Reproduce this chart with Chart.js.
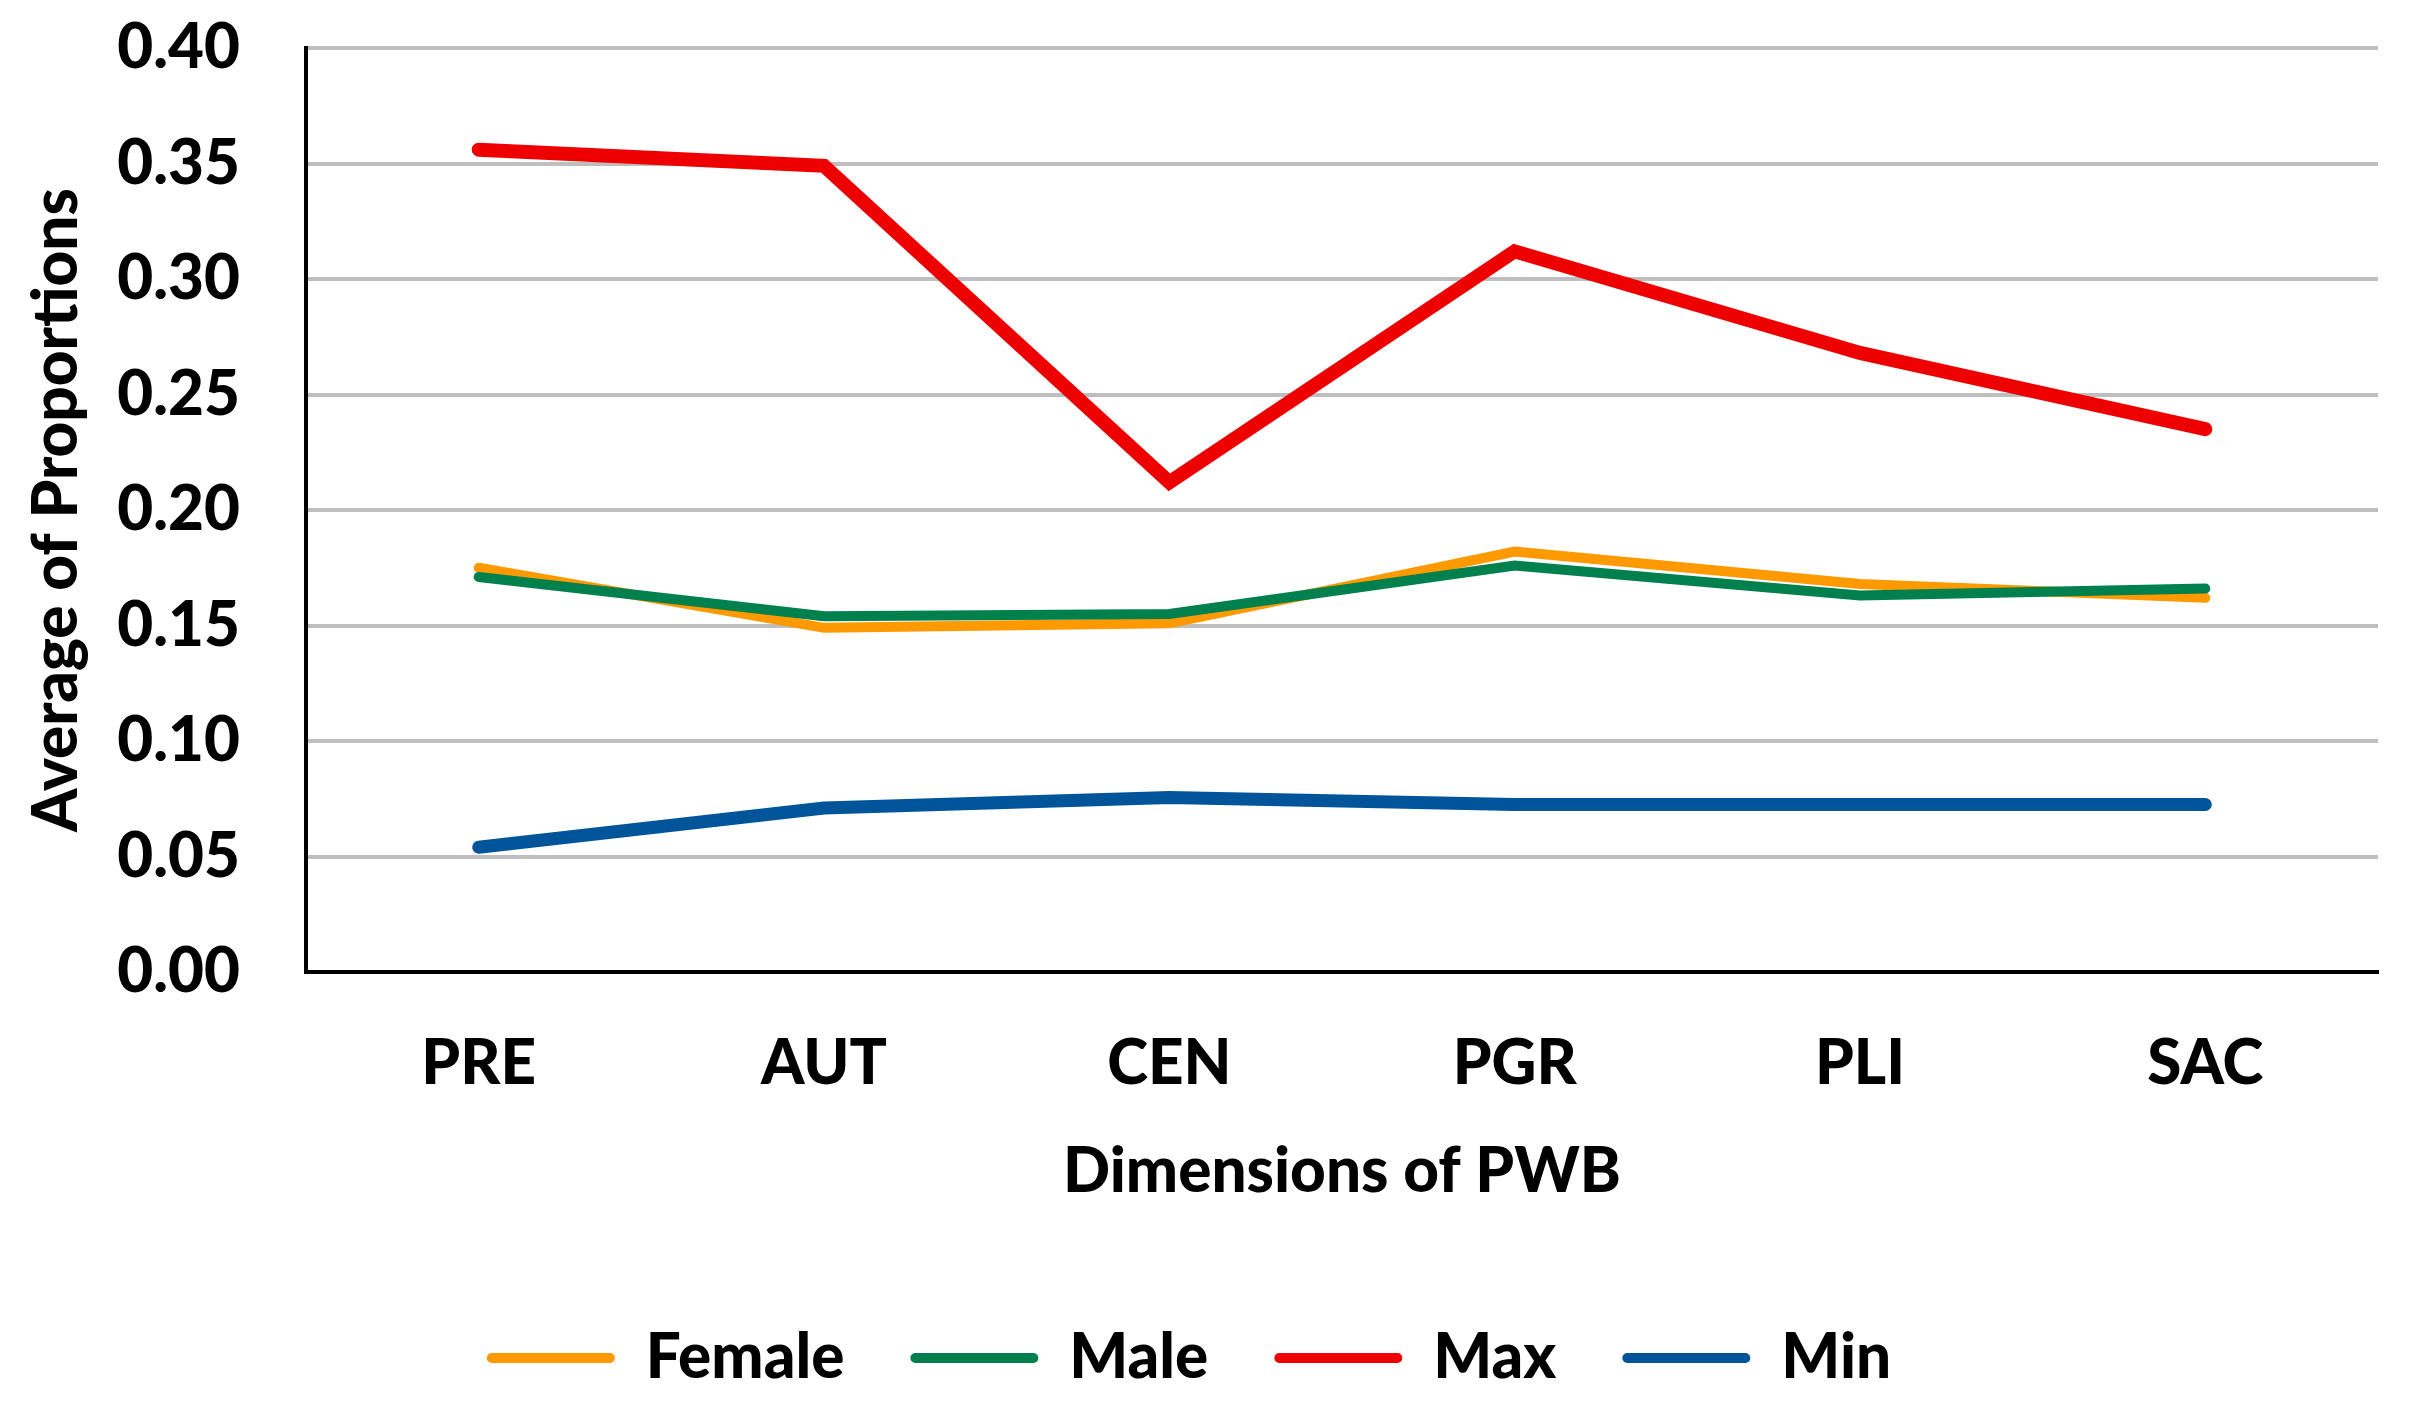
<!DOCTYPE html>
<html>
<head>
<meta charset="utf-8">
<script src="https://cdn.jsdelivr.net/npm/chart.js@4/dist/chart.umd.min.js"></script>
<style>
  html, body { margin: 0; padding: 0; background: #fff; }
  #wrap { width: 2409px; height: 1406px; }
</style>
</head>
<body>
<div id="wrap"><canvas id="chart" width="2409" height="1406"></canvas></div>
<script>
// categories (dimensions of PWB)
const dimensions = ['PRE', 'AUT', 'CEN', 'PGR', 'PLI', 'SAC'];
// series values
const femaleValues = [0.175, 0.149, 0.151, 0.182, 0.168, 0.162];
const maleValues   = [0.171, 0.154, 0.155, 0.176, 0.163, 0.166];
const maxValues    = [0.356, 0.349, 0.212, 0.312, 0.268, 0.235];
const minValues    = [0.054, 0.071, 0.0755, 0.0725, 0.0725, 0.0725];
const yTicks = [0, 0.05, 0.10, 0.15, 0.20, 0.25, 0.30, 0.35, 0.40];

const fontFamily = 'Lato, "Open Sans", sans-serif';
const textFont = { family: fontFamily, size: 62, weight: '900' };

function lineSet(label, data, color, width, order) {
  return {
    label: label,
    data: data,
    borderColor: color,
    backgroundColor: color,
    borderWidth: width,
    borderCapStyle: 'round',
    borderJoinStyle: 'miter',
    pointRadius: 0,
    pointHoverRadius: 0,
    tension: 0,
    fill: false,
    order: order,
  };
}

const datasets = [
  lineSet('Female', femaleValues, '#FF9900', 10, 3),
  lineSet('Male', maleValues, '#00804D', 10, 2),
  lineSet('Max', maxValues, '#EE0000', 14, 1),
  lineSet('Min', minValues, '#00559A', 13, 0),
];

const config = {
  type: 'line',
  data: { labels: dimensions, datasets: datasets },
  options: {
    responsive: false,
    devicePixelRatio: 1,
    animation: false,
    layout: { padding: { top: 48, right: 31, bottom: 7, left: 0 } },
    plugins: {
      tooltip: { enabled: false },
      legend: {
        position: 'bottom',
        labels: {
          font: textFont,
          color: '#000',
          boxWidth: 128,
          boxHeight: 10,
          padding: 66,
          useBorderRadius: true,
          borderRadius: 5,
          sort: (a, b) => a.datasetIndex - b.datasetIndex,
          generateLabels: (chart) => {
            const items = Chart.defaults.plugins.legend.labels.generateLabels(chart);
            items.forEach(it => { it.lineWidth = 0; });
            return items;
          },
        },
      },
    },
    scales: {
      x: {
        offset: true,
        grid: { display: false, drawTicks: false },
        border: { display: true, color: '#000', width: 4 },
        ticks: { font: textFont, color: '#000', padding: 55 },
        title: {
          display: true,
          text: 'Dimensions of PWB',
          font: textFont,
          color: '#000',
          padding: { top: 0, bottom: 52 },
        },
        afterFit: (scale) => { scale.height = 289; },
      },
      y: {
        min: 0,
        max: 0.4,
        afterBuildTicks: (scale) => { scale.ticks = yTicks.map(v => ({ value: v })); },
        grid: { color: '#BEBEBE', lineWidth: 4, drawTicks: false },
        border: { display: true, color: '#000', width: 4 },
        ticks: {
          font: textFont,
          color: '#000',
          padding: 66,
          callback: (v) => Number(v).toFixed(2),
        },
        title: {
          display: true,
          text: 'Average of Proportions',
          font: textFont,
          color: '#000',
          padding: { top: 20, bottom: 0 },
        },
        afterFit: (scale) => {
          scale.width = 306;
          scale.paddingTop = 0;
          scale.paddingBottom = 0;
        },
      },
    },
  },
};

new Chart(document.getElementById('chart'), config);
</script>
</body>
</html>
